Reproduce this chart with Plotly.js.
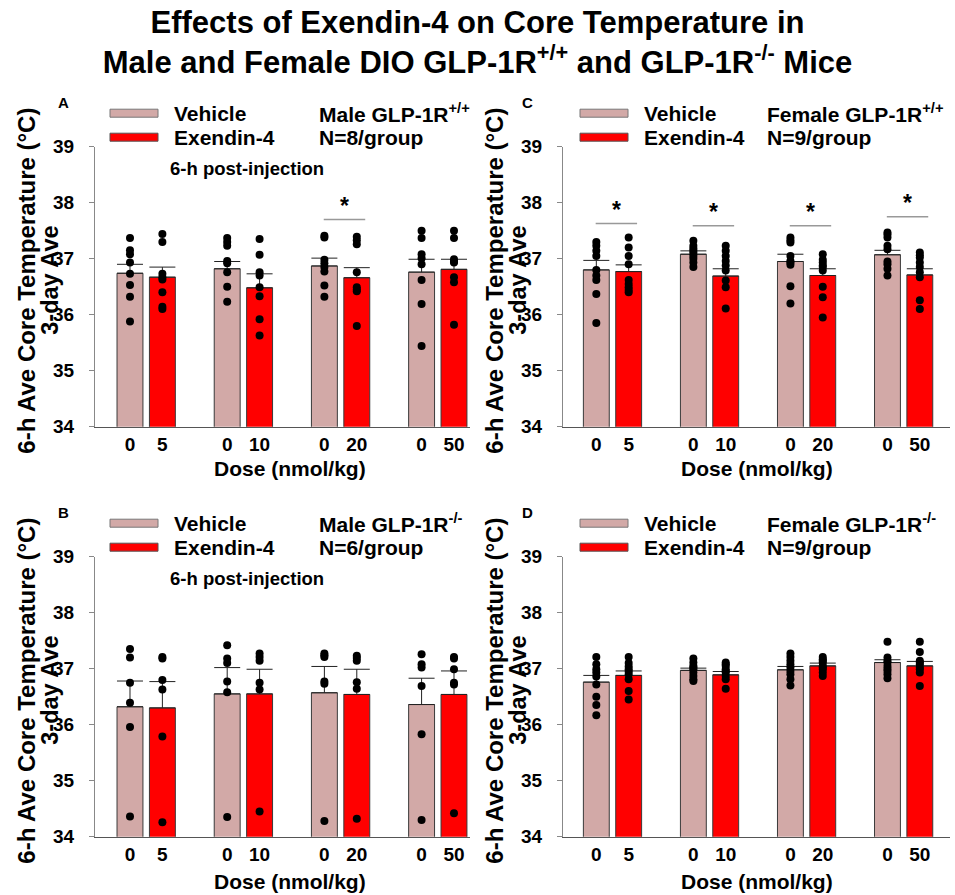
<!DOCTYPE html>
<html><head><meta charset="utf-8">
<script src="https://cdn.plot.ly/plotly-3.0.1.min.js"></script>
<style>body{margin:0;background:#fff}#chart{width:955px;height:895px}</style>
</head><body><div id="chart"></div><script>
// ---------- DATA ----------
const doses = ['5', '10', '20', '50'];
const seriesNames = ['Vehicle', 'Exendin-4'];

// Panel A: Male GLP-1R+/+ (N=8)
const A_vehMean = [36.74, 36.82, 36.87, 36.76];
const A_vehSem  = [0.16, 0.13, 0.14, 0.23];
const A_exMean  = [36.67, 36.48, 36.66, 36.81];
const A_exSem   = [0.18, 0.25, 0.18, 0.18];
const A_vehPts = [
  [37.37, 37.15, 37.08, 36.93, 36.73, 36.53, 36.32, 35.88],
  [37.37, 37.30, 37.23, 36.96, 36.92, 36.76, 36.50, 36.23],
  [37.41, 37.38, 36.98, 36.92, 36.85, 36.77, 36.52, 36.32],
  [37.50, 37.37, 37.08, 37.01, 36.90, 36.62, 36.19, 35.44]
];
const A_exPts = [
  [37.44, 37.30, 36.73, 36.67, 36.63, 36.40, 36.14, 36.10],
  [37.35, 37.07, 36.76, 36.70, 36.49, 36.33, 35.92, 35.63],
  [37.39, 37.33, 37.26, 36.76, 36.49, 36.45, 36.42, 35.80],
  [37.50, 37.37, 36.99, 36.95, 36.93, 36.67, 36.58, 35.82]
];
const A_sig = [null, null, 37.70, null];

// Panel B: Male GLP-1R-/- (N=6)
const B_vehMean = [36.32, 36.55, 36.57, 36.36];
const B_vehSem  = [0.46, 0.47, 0.47, 0.47];
const B_exMean  = [36.30, 36.55, 36.54, 36.54];
const B_exSem   = [0.47, 0.44, 0.45, 0.42];
const B_vehPts = [
  [37.35, 37.20, 36.75, 36.39, 35.96, 34.36],
  [37.42, 37.18, 37.10, 36.77, 36.58, 34.35],
  [37.27, 37.24, 37.21, 36.77, 36.73, 34.28],
  [37.26, 37.08, 37.02, 36.69, 35.83, 34.30]
];
const B_exPts = [
  [37.21, 37.18, 36.80, 36.63, 35.79, 34.26],
  [37.27, 37.21, 37.14, 36.75, 36.63, 34.45],
  [37.23, 37.19, 37.14, 36.76, 36.64, 34.32],
  [37.21, 37.18, 36.99, 36.75, 36.72, 34.42]
];
const B_sig = [null, null, null, null];

// Panel C: Female GLP-1R+/+ (N=9)
const C_vehMean = [36.80, 37.08, 36.95, 37.07];
const C_vehSem  = [0.17, 0.06, 0.13, 0.08];
const C_exMean  = [36.77, 36.69, 36.70, 36.71];
const C_exSem   = [0.12, 0.13, 0.12, 0.11];
const C_vehPts = [
  [37.30, 37.23, 37.14, 37.05, 36.80, 36.70, 36.62, 36.37, 35.85],
  [37.32, 37.23, 37.18, 37.14, 37.10, 37.05, 37.00, 36.93, 36.85],
  [37.38, 37.33, 37.29, 37.05, 36.96, 36.93, 36.89, 36.51, 36.20],
  [37.47, 37.43, 37.38, 37.23, 37.17, 36.95, 36.90, 36.82, 36.70]
];
const C_exPts = [
  [37.38, 37.20, 37.05, 36.90, 36.62, 36.55, 36.49, 36.44, 36.40],
  [37.23, 37.14, 37.05, 36.96, 36.88, 36.79, 36.61, 36.49, 36.11],
  [37.08, 36.98, 36.93, 36.88, 36.85, 36.79, 36.50, 36.31, 35.95],
  [37.11, 37.06, 37.02, 36.93, 36.85, 36.76, 36.67, 36.26, 36.10]
];
const C_sig = [37.63, 37.59, 37.59, 37.75];

// Panel D: Female GLP-1R-/- (N=9)
const D_vehMean = [36.76, 36.97, 36.98, 37.11];
const D_vehSem  = [0.12, 0.04, 0.06, 0.05];
const D_exMean  = [36.88, 36.89, 37.05, 37.05];
const D_exSem   = [0.08, 0.06, 0.05, 0.08];
const D_vehPts = [
  [37.21, 37.08, 36.99, 36.93, 36.86, 36.72, 36.50, 36.35, 36.17],
  [37.18, 37.11, 37.05, 37.02, 36.99, 36.93, 36.87, 36.81, 36.78],
  [37.27, 37.21, 37.14, 37.08, 37.02, 36.96, 36.90, 36.81, 36.70],
  [37.48, 37.20, 37.14, 37.11, 37.05, 37.00, 36.96, 36.90, 36.83]
];
const D_exPts = [
  [37.21, 37.10, 37.04, 36.99, 36.95, 36.90, 36.81, 36.60, 36.45],
  [37.11, 37.08, 37.05, 36.99, 36.96, 36.93, 36.87, 36.81, 36.64],
  [37.21, 37.17, 37.14, 37.11, 37.05, 37.02, 36.99, 36.93, 36.87],
  [37.48, 37.30, 37.14, 37.11, 37.08, 37.02, 36.99, 36.93, 36.69]
];
const D_sig = [null, null, null, null];

const yTicks = [34, 35, 36, 37, 38, 39];

// ---------- STYLE / LAYOUT ----------
const W = 955, H = 895;
const FONT = 'Liberation Sans, Arial, Helvetica, sans-serif';
const VEH_COLOR = '#d2a9a7';
const EX_COLOR = '#ff0000';
const px = x => x / W;
const py = y => (H - y) / H;

const panels = [
  {letter: 'A', xa: 'x',  ya: 'y',  vm: A_vehMean, vs: A_vehSem, em: A_exMean, es: A_exSem, vp: A_vehPts, ep: A_exPts, sig: A_sig,
   geno: 'Male GLP-1R<sup>+/+</sup>', n: 'N=8/group', post: true, left: 95, right: 470, top: 146.7, bottom: 426.7, doseDy: 42},
  {letter: 'B', xa: 'x2', ya: 'y2', vm: B_vehMean, vs: B_vehSem, em: B_exMean, es: B_exSem, vp: B_vehPts, ep: B_exPts, sig: B_sig,
   geno: 'Male GLP-1R<sup>-/-</sup>', n: 'N=6/group', post: true, left: 95, right: 470, top: 556.7, bottom: 836.7, doseDy: 45},
  {letter: 'C', xa: 'x3', ya: 'y3', vm: C_vehMean, vs: C_vehSem, em: C_exMean, es: C_exSem, vp: C_vehPts, ep: C_exPts, sig: C_sig,
   geno: 'Female GLP-1R<sup>+/+</sup>', n: 'N=9/group', post: false, left: 563, right: 950, top: 146.7, bottom: 426.7, doseDy: 42},
  {letter: 'D', xa: 'x4', ya: 'y4', vm: D_vehMean, vs: D_vehSem, em: D_exMean, es: D_exSem, vp: D_vehPts, ep: D_exPts, sig: D_sig,
   geno: 'Female GLP-1R<sup>-/-</sup>', n: 'N=9/group', post: false, left: 563, right: 950, top: 556.7, bottom: 836.7, doseDy: 45}
];

const vehPos = doses.map((d, i) => i * 3);
const exPos = doses.map((d, i) => i * 3 + 1);
const tickVals = [], tickText = [];
doses.forEach((d, i) => { tickVals.push(vehPos[i], exPos[i]); tickText.push('0', d); });

const traces = [];
const shapes = [];
const annotations = [];
const layout = {
  width: W, height: H,
  margin: {l: 0, r: 0, t: 0, b: 0},
  paper_bgcolor: '#fff', plot_bgcolor: 'rgba(0,0,0,0)',
  showlegend: false,
  barmode: 'overlay',
  font: {family: FONT, color: '#000'},
  title: {
    text: 'Effects of Exendin-4 on Core Temperature in<br>Male and Female DIO GLP-1R<sup>+/+</sup> and GLP-1R<sup>-/-</sup> Mice',
    font: {family: FONT, size: 31, weight: 'bold', color: '#000'},
    x: 0.5, xanchor: 'center', xref: 'paper',
    y: 0.963, yanchor: 'top', yref: 'container'
  },
  shapes: shapes,
  annotations: annotations
};

function txt(x, y, text, size, opts) {
  annotations.push(Object.assign({
    xref: 'paper', yref: 'paper', x: px(x), y: py(y), text: text, showarrow: false,
    xanchor: 'left', yanchor: 'middle',
    font: {family: FONT, size: size, weight: 'bold', color: '#000'}
  }, opts || {}));
}

panels.forEach((p, k) => {
  const unit = p.left === 95 ? 32.4 : 32.35;
  const xr0 = -(p.left === 95 ? 1.08 : 1.03);
  const xr1 = xr0 + (p.right - p.left) / unit;
  const xKey = 'xaxis' + (k === 0 ? '' : k + 1);
  const yKey = 'yaxis' + (k === 0 ? '' : k + 1);
  layout[xKey] = {
    domain: [px(p.left), px(p.right)], range: [xr0, xr1], anchor: p.ya,
    tickvals: tickVals, ticktext: tickText, ticks: '', ticklabelstandoff: 0,
    tickfont: {family: FONT, size: 19, weight: 'bold', color: '#000'},
    showline: true, linecolor: '#555', linewidth: 1.2, showgrid: false, zeroline: false, fixedrange: true
  };
  layout[yKey] = {
    domain: [py(p.bottom), py(p.top)], range: [34, 39], anchor: p.xa,
    tickvals: yTicks, ticks: 'outside', ticklen: 5, tickcolor: '#888', ticklabelstandoff: 11,
    tickfont: {family: FONT, size: 19, weight: 'bold', color: '#000'},
    showline: true, linecolor: '#888', linewidth: 1, showgrid: false, zeroline: false, fixedrange: true
  };

  const mkBar = (name, pos, mean, sem, color) => ({
    type: 'bar', name: name, x: pos, y: mean, width: 0.8, xaxis: p.xa, yaxis: p.ya,
    marker: {color: color, line: {color: '#3a3a3a', width: 1}},
    error_y: {type: 'data', symmetric: false, array: sem, arrayminus: sem.map(() => 0),
              color: '#222', thickness: 1, width: 13}
  });
  traces.push(mkBar(seriesNames[0], vehPos, p.vm, p.vs, VEH_COLOR));
  traces.push(mkBar(seriesNames[1], exPos, p.em, p.es, EX_COLOR));

  const mkPts = (pos, pts) => {
    const xs = [], ys = [];
    pts.forEach((arr, i) => arr.forEach(v => { xs.push(pos[i]); ys.push(v); }));
    return {type: 'scatter', mode: 'markers', x: xs, y: ys, xaxis: p.xa, yaxis: p.ya,
            marker: {color: '#000', size: 8}, cliponaxis: false, hoverinfo: 'y'};
  };
  traces.push(mkPts(vehPos, p.vp));
  traces.push(mkPts(exPos, p.ep));

  // significance lines + asterisks
  p.sig.forEach((s, i) => {
    if (s === null) return;
    const xa0 = vehPos[i] - 0.02, xa1 = exPos[i] + 0.26;
    shapes.push({type: 'line', xref: p.xa, yref: p.ya, x0: xa0, x1: xa1, y0: s, y1: s,
                 line: {color: '#999', width: 1.5}});
    annotations.push({xref: p.xa, yref: p.ya, x: (xa0 + xa1) / 2, y: s + 0.24, text: '*', showarrow: false,
                      xanchor: 'center', yanchor: 'middle',
                      font: {family: FONT, size: 23, weight: 'bold', color: '#000'}});
  });

  // legend-like block
  const top = p.top;
  const swL = p.left === 95 ? 110 : 580;
  const txL = p.left === 95 ? 172 : 642;
  const gnL = p.left === 95 ? 317 : 765;
  const r1 = top - 33.5, r2 = top - 9.5;
  shapes.push({type: 'rect', xref: 'paper', yref: 'paper', x0: px(swL), x1: px(swL + 48), y0: py(r1 - 4), y1: py(r1 + 4),
               fillcolor: VEH_COLOR, line: {color: '#777', width: 1}});
  shapes.push({type: 'rect', xref: 'paper', yref: 'paper', x0: px(swL), x1: px(swL + 48), y0: py(r2 - 4), y1: py(r2 + 4),
               fillcolor: EX_COLOR, line: {color: '#555', width: 1}});
  txt(txL, r1, seriesNames[0], 21);
  txt(txL, r2, seriesNames[1], 21);
  txt(gnL, r1, p.geno, 21);
  txt(gnL, r2, p.n, 21);
  if (p.post) txt(168, top + 21.5, '6-h post-injection', 18.5);

  // panel letter
  txt(p.left === 95 ? 56 : 520, top - 44, p.letter, 15);

  // y-axis labels (two lines)
  const mid = (p.top + p.bottom) / 2;
  const yl1 = p.left === 95 ? 27 : 495;
  txt(yl1, mid - 6, '6-h Ave Core Temperature (°C)', 24, {xanchor: 'center', textangle: -90});
  txt(yl1 + 23, mid - 6, '3-day Ave', 23.5, {xanchor: 'center', textangle: -90});

  // x-axis label
  txt(p.left === 95 ? 290 : 757, p.bottom + p.doseDy, 'Dose (nmol/kg)', 21, {xanchor: 'center'});
});

Plotly.newPlot('chart', traces, layout, {displayModeBar: false, staticPlot: true});
</script></body></html>
